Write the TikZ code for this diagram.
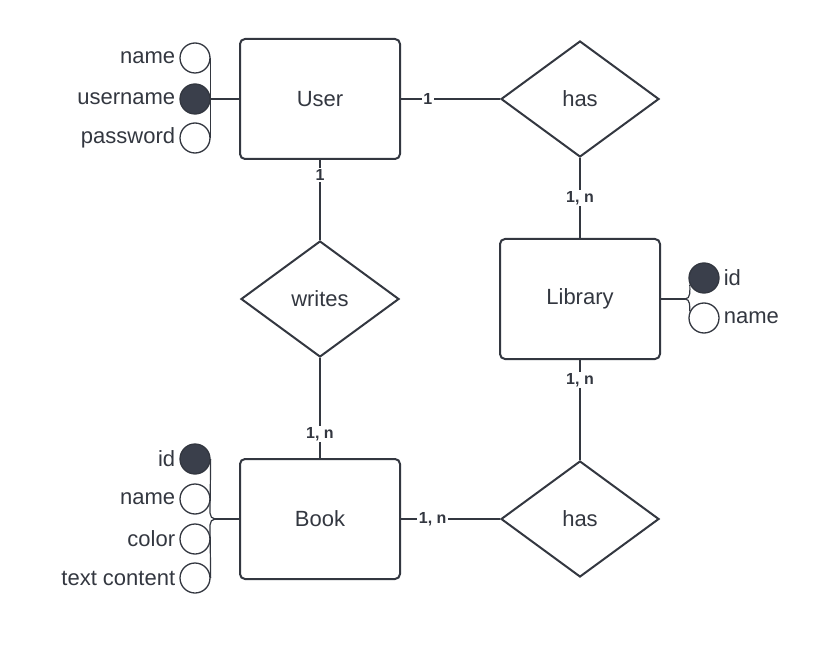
\documentclass[tikz,border=0pt]{standalone}
\usepackage{fontspec}
\setmainfont{Liberation Sans}
\usetikzlibrary{shapes.geometric,calc}
\definecolor{ink}{HTML}{333740}
\definecolor{dot}{HTML}{3A3F4B}
\begin{document}
\begin{tikzpicture}[x=1pt,y=-1pt,
  every node/.style={text=ink},
  entity/.style={draw=ink,line width=2pt,rounded corners=5pt,minimum width=160pt,minimum height=120pt,inner sep=0pt,font=\fontsize{22}{26}\selectfont},
  rel/.style={draw=ink,line width=2pt,diamond,minimum width=158pt,minimum height=116pt,inner sep=0pt,font=\fontsize{22}{26}\selectfont},
  attr/.style={circle,draw=ink,line width=1.3pt,minimum size=30pt,inner sep=0pt,fill=white},
  key/.style={attr,fill=dot},
  atext/.style={font=\fontsize{22}{26}\selectfont,inner sep=0pt},
  link/.style={draw=ink,line width=1.5pt},
  alink/.style={draw=ink,line width=1.2pt},
  card/.style={fill=white,font=\bfseries\fontsize{16}{19}\selectfont,inner sep=1.5pt}
]
\useasboundingbox (0,0) rectangle (840,652);
% entities
\node[entity] (user) at (320,99) {User};
\node[entity] (lib) at (580,299) {Library};
\node[entity] (book) at (320,519) {Book};
% relations
\node[rel] (has1) at (580,99) {has};
\node[rel] (writes) at (320,299) {writes};
\node[rel] (has2) at (580,519) {has};
% connectors
\draw[link] (user.east) -- (has1.west) node[card,pos=0.27] {1};
\draw[link] (has1.south) -- (lib.north) node[card,midway] {1, n};
\draw[link] (user.south) -- (writes.north) node[card,pos=0.19] {1};
\draw[link] (writes.south) -- (book.north) node[card,pos=0.76] {1, n};
\draw[link] (lib.south) -- (has2.north) node[card,pos=0.2] {1, n};
\draw[link] (book.east) -- (has2.west) node[card,pos=0.32] {1, n};
% user attributes
\node[attr] (ua1) at (195,58) {};
\node[key] (ua2) at (195,99) {};
\node[attr] (ua3) at (195,138) {};
\draw[alink] (ua1.east) -- (ua3.east);
\draw[alink] (ua2.east) -- (user.west);
\node[atext,anchor=east] (ut1) at ($(ua1.west)+(-4,0)$) {name};
\node[atext,anchor=east] (ut2) at ($(ua2.west)+(-4,0)$) {username};
\node[atext,anchor=east] (ut3) at ($(ua3.west)+(-4,0)$) {password};
% book attributes
\node[key] (ba1) at (195,459) {};
\node[attr] (ba2) at (195,499) {};
\node[attr] (ba3) at (195,539) {};
\node[attr] (ba4) at (195,578) {};
\coordinate (bj) at (215,519);
\draw[alink] (ba1.east) -- (210,513) to[out=-90,in=180] (bj);
\draw[alink] (ba4.east) -- (210,525) to[out=90,in=180] (bj);
\draw[alink] (bj) -- (book.west);
\node[atext,anchor=east] (bt1) at ($(ba1.west)+(-4,0)$) {id};
\node[atext,anchor=east] (bt2) at ($(ba2.west)+(-4,0)$) {name};
\node[atext,anchor=east] (bt3) at ($(ba3.west)+(-4,0)$) {color};
\node[atext,anchor=east] (bt4) at ($(ba4.west)+(-4,0)$) {text content};
% library attributes
\node[key] (la1) at (704,278) {};
\node[attr] (la2) at (704,318) {};
\coordinate (lj) at (685,299);
\draw[alink] (lib.east) -- (lj);
\draw[alink] (lj) to[out=0,in=-90] (la1.205);
\draw[alink] (lj) to[out=0,in=90] (la2.155);
\node[atext,anchor=west] (lt1) at ($(la1.east)+(4,0)$) {id};
\node[atext,anchor=west] (lt2) at ($(la2.east)+(4,0)$) {name};
\end{tikzpicture}
\end{document}
